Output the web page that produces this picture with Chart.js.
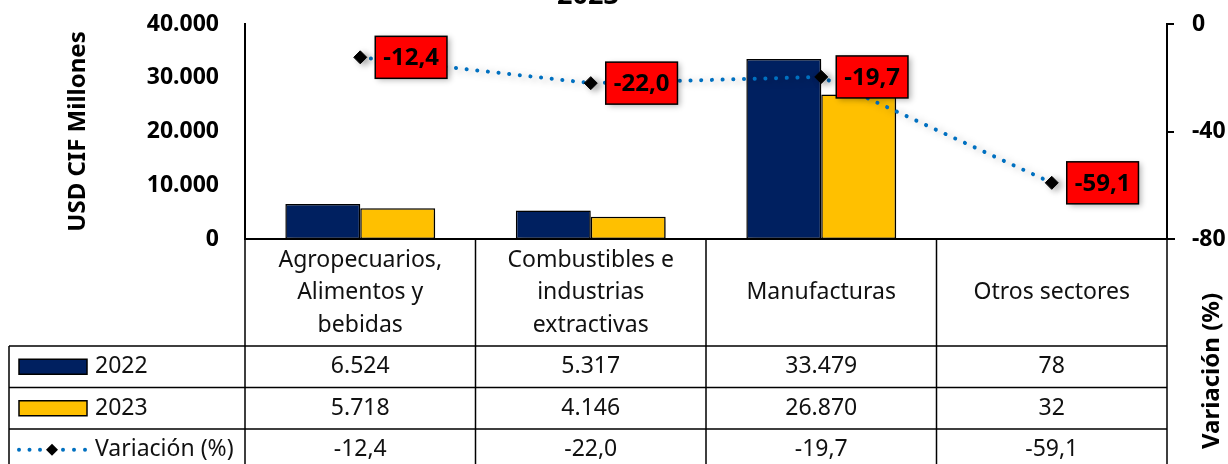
<!DOCTYPE html>
<html>
<head>
<meta charset="utf-8">
<script src="https://cdn.jsdelivr.net/npm/chart.js@4"></script>
<style>
html,body{margin:0;padding:0;background:#fff;}
canvas{display:block;}
</style>
</head>
<body>
<canvas id="c" width="1228" height="464"></canvas>
<script>
const categories = [
  ["Agropecuarios,", "Alimentos y", "bebidas"],
  ["Combustibles e", "industrias", "extractivas"],
  ["Manufacturas"],
  ["Otros sectores"]
];
const seriesNames = ["2022", "2023", "Variación (%)"];
const values2022 = [6524, 5317, 33479, 78];
const values2023 = [5718, 4146, 26870, 32];
const variacion = [-12.4, -22.0, -19.7, -59.1];
const titleText = "2023";
const leftAxisTitle = "USD CIF Millones";
const rightAxisTitle = "Variación (%)";

const FONT = "'Noto Sans', 'Open Sans', sans-serif";
const C2022 = "#002060", C2023 = "#FFC000", CLINE = "#0070C0";

function fmtThousands(n) {
  const s = Math.round(Math.abs(n)).toString();
  const out = s.replace(/\B(?=(\d{3})+(?!\d))/g, ".");
  return (n < 0 ? "-" : "") + out;
}
function fmtDec(n) {
  return n.toFixed(1).replace(".", ",");
}

const shadowPlugin = {
  id: "shadowPlugin",
  beforeDatasetDraw(chart, args) {
    const ctx = chart.ctx;
    ctx.save();
    ctx.shadowColor = "rgba(0,0,0,0.35)";
    ctx.shadowBlur = 7;
    ctx.shadowOffsetX = 4;
    ctx.shadowOffsetY = 2;
  },
  afterDatasetDraw(chart) {
    chart.ctx.restore();
  }
};

const overlayPlugin = {
  id: "overlayPlugin",
  afterDraw(chart) {
    const ctx = chart.ctx;
    const ca = chart.chartArea;
    const xs = chart.scales.x;
    const n = categories.length;
    const colW = (ca.right - ca.left) / n;
    const top = ca.bottom;
    const headerBottom = top + 107;
    const rowH = 41.5;
    const tableLeft = 9;
    const bottom = 470;

    ctx.save();
    // data labels for variation
    const meta = chart.getDatasetMeta(0);
    ctx.font = "bold 24px " + FONT;
    meta.data.forEach((pt, i) => {
      const txt = fmtDec(variacion[i]);
      const tw = ctx.measureText(txt).width;
      const bw = tw + 16, bh = 42;
      const bx = pt.x + 15, by = pt.y - bh / 2;
      ctx.save();
      ctx.shadowColor = "rgba(0,0,0,0.3)";
      ctx.shadowBlur = 6;
      ctx.shadowOffsetX = 3;
      ctx.shadowOffsetY = 2;
      ctx.fillStyle = "#FF0000";
      ctx.fillRect(bx, by, bw, bh);
      ctx.restore();
      ctx.strokeStyle = "#000";
      ctx.lineWidth = 1.5;
      ctx.strokeRect(bx, by, bw, bh);
      ctx.fillStyle = "#000";
      ctx.textAlign = "center";
      ctx.textBaseline = "middle";
      ctx.fillText(txt, bx + bw / 2, pt.y + 1);
    });

    // axis baseline
    ctx.strokeStyle = "#000";
    ctx.lineWidth = 2;
    ctx.beginPath();
    ctx.moveTo(ca.left - 1, top);
    ctx.lineTo(ca.right + 8, top);
    ctx.stroke();

    // table lines
    ctx.lineWidth = 1.5;
    ctx.beginPath();
    for (let i = 0; i <= n; i++) {
      const x = ca.left + i * colW;
      ctx.moveTo(x, top);
      ctx.lineTo(x, bottom);
    }
    ctx.moveTo(tableLeft, headerBottom);
    ctx.lineTo(tableLeft, bottom);
    for (let r = 0; r < 3; r++) {
      const y = headerBottom + r * rowH;
      ctx.moveTo(tableLeft, y);
      ctx.lineTo(ca.right, y);
    }
    ctx.stroke();

    // header texts
    ctx.fillStyle = "#111";
    ctx.font = "23px " + FONT;
    ctx.textAlign = "center";
    ctx.textBaseline = "middle";
    const hc = (top + headerBottom) / 2;
    categories.forEach((lines, i) => {
      const cx = xs.getPixelForValue(i);
      const lh = 32.5;
      const y0 = hc - (lines.length - 1) * lh / 2;
      lines.forEach((ln, j) => ctx.fillText(ln, cx, y0 + j * lh));
    });

    // rows
    const rows = [
      values2022.map(fmtThousands),
      values2023.map(fmtThousands),
      variacion.map(fmtDec)
    ];
    rows.forEach((vals, r) => {
      const cy = headerBottom + r * rowH + rowH / 2;
      vals.forEach((v, i) => {
        ctx.fillText(v, xs.getPixelForValue(i), cy);
      });
      // legend keys
      ctx.save();
      if (r < 2) {
        ctx.fillStyle = r === 0 ? C2022 : C2023;
        ctx.fillRect(19, cy - 7.5, 68, 15);
        ctx.strokeStyle = "#000";
        ctx.lineWidth = 1.5;
        ctx.strokeRect(19, cy - 7.5, 68, 15);
      } else {
        ctx.fillStyle = CLINE;
        [19, 29.5, 40, 63, 74, 85].forEach(dx => {
          ctx.beginPath();
          ctx.arc(dx, cy, 2, 0, Math.PI * 2);
          ctx.fill();
        });
        ctx.fillStyle = "#000";
        ctx.beginPath();
        ctx.moveTo(52 - 6, cy);
        ctx.lineTo(52, cy - 6);
        ctx.lineTo(52 + 6, cy);
        ctx.lineTo(52, cy + 6);
        ctx.closePath();
        ctx.fill();
      }
      ctx.restore();
      ctx.fillStyle = "#111";
      ctx.textAlign = "left";
      ctx.fillText(seriesNames[r], 95, cy);
      ctx.textAlign = "center";
    });

    // axis titles
    ctx.fillStyle = "#000";
    ctx.font = "bold 24px " + FONT;
    ctx.save();
    ctx.translate(78, (ca.top + ca.bottom) / 2);
    ctx.rotate(-Math.PI / 2);
    ctx.fillText(leftAxisTitle, 0, 0);
    ctx.restore();
    ctx.save();
    ctx.translate(1212, 371);
    ctx.rotate(-Math.PI / 2);
    ctx.fillText(rightAxisTitle, 0, 0);
    ctx.restore();

    // title (cut off at top)
    ctx.font = "bold 27px " + FONT;
    ctx.textBaseline = "alphabetic";
    ctx.fillText(titleText, 588, 4);
    ctx.restore();
  }
};

new Chart(document.getElementById("c"), {
  data: {
    labels: categories.map(c => c.join(" ")),
    datasets: [
      {
        type: "line",
        label: seriesNames[2],
        data: variacion,
        yAxisID: "y1",
        order: 0,
        borderColor: CLINE,
        borderWidth: 4,
        borderDash: [0.1, 10.6],
        borderCapStyle: "round",
        tension: 0,
        fill: false,
        pointStyle: "rectRot",
        pointRadius: 6.5,
        pointBackgroundColor: "#000",
        pointBorderColor: "#000",
        pointBorderWidth: 1
      },
      {
        type: "bar",
        label: seriesNames[0],
        data: values2022,
        yAxisID: "y",
        order: 1,
        backgroundColor: C2022,
        borderColor: "#000",
        borderWidth: 1.5,
        borderSkipped: false,
        categoryPercentage: 0.65,
        barPercentage: 1.0
      },
      {
        type: "bar",
        label: seriesNames[1],
        data: values2023,
        yAxisID: "y",
        order: 1,
        backgroundColor: C2023,
        borderColor: "#000",
        borderWidth: 1.5,
        borderSkipped: false,
        categoryPercentage: 0.65,
        barPercentage: 1.0
      }
    ]
  },
  options: {
    responsive: false,
    devicePixelRatio: 1,
    animation: false,
    layout: { padding: { left: 0, right: 0, top: 24, bottom: 225 } },
    plugins: {
      legend: { display: false },
      tooltip: { enabled: false },
      title: { display: false }
    },
    scales: {
      x: { display: false },
      y: {
        position: "left",
        min: 0, max: 40000,
        ticks: {
          stepSize: 10000,
          padding: 26,
          color: "#000",
          font: { family: FONT, size: 23, weight: "bold" },
          callback: v => fmtThousands(v)
        },
        grid: { display: false, drawTicks: false },
        border: { display: true, color: "#000", width: 2 },
        afterFit: s => { s.width = 245; s.paddingTop = 0; s.paddingBottom = 0; }
      },
      y1: {
        position: "right",
        min: -80, max: 0,
        ticks: {
          stepSize: 40,
          padding: 18,
          color: "#000",
          font: { family: FONT, size: 23, weight: "bold" }
        },
        grid: { drawOnChartArea: false, drawTicks: true, tickLength: 7, color: "#000", lineWidth: 2 },
        border: { display: true, color: "#000", width: 2 },
        afterFit: s => { s.width = 61; s.paddingTop = 0; s.paddingBottom = 0; }
      }
    }
  },
  plugins: [shadowPlugin, overlayPlugin]
});
</script>
</body>
</html>
